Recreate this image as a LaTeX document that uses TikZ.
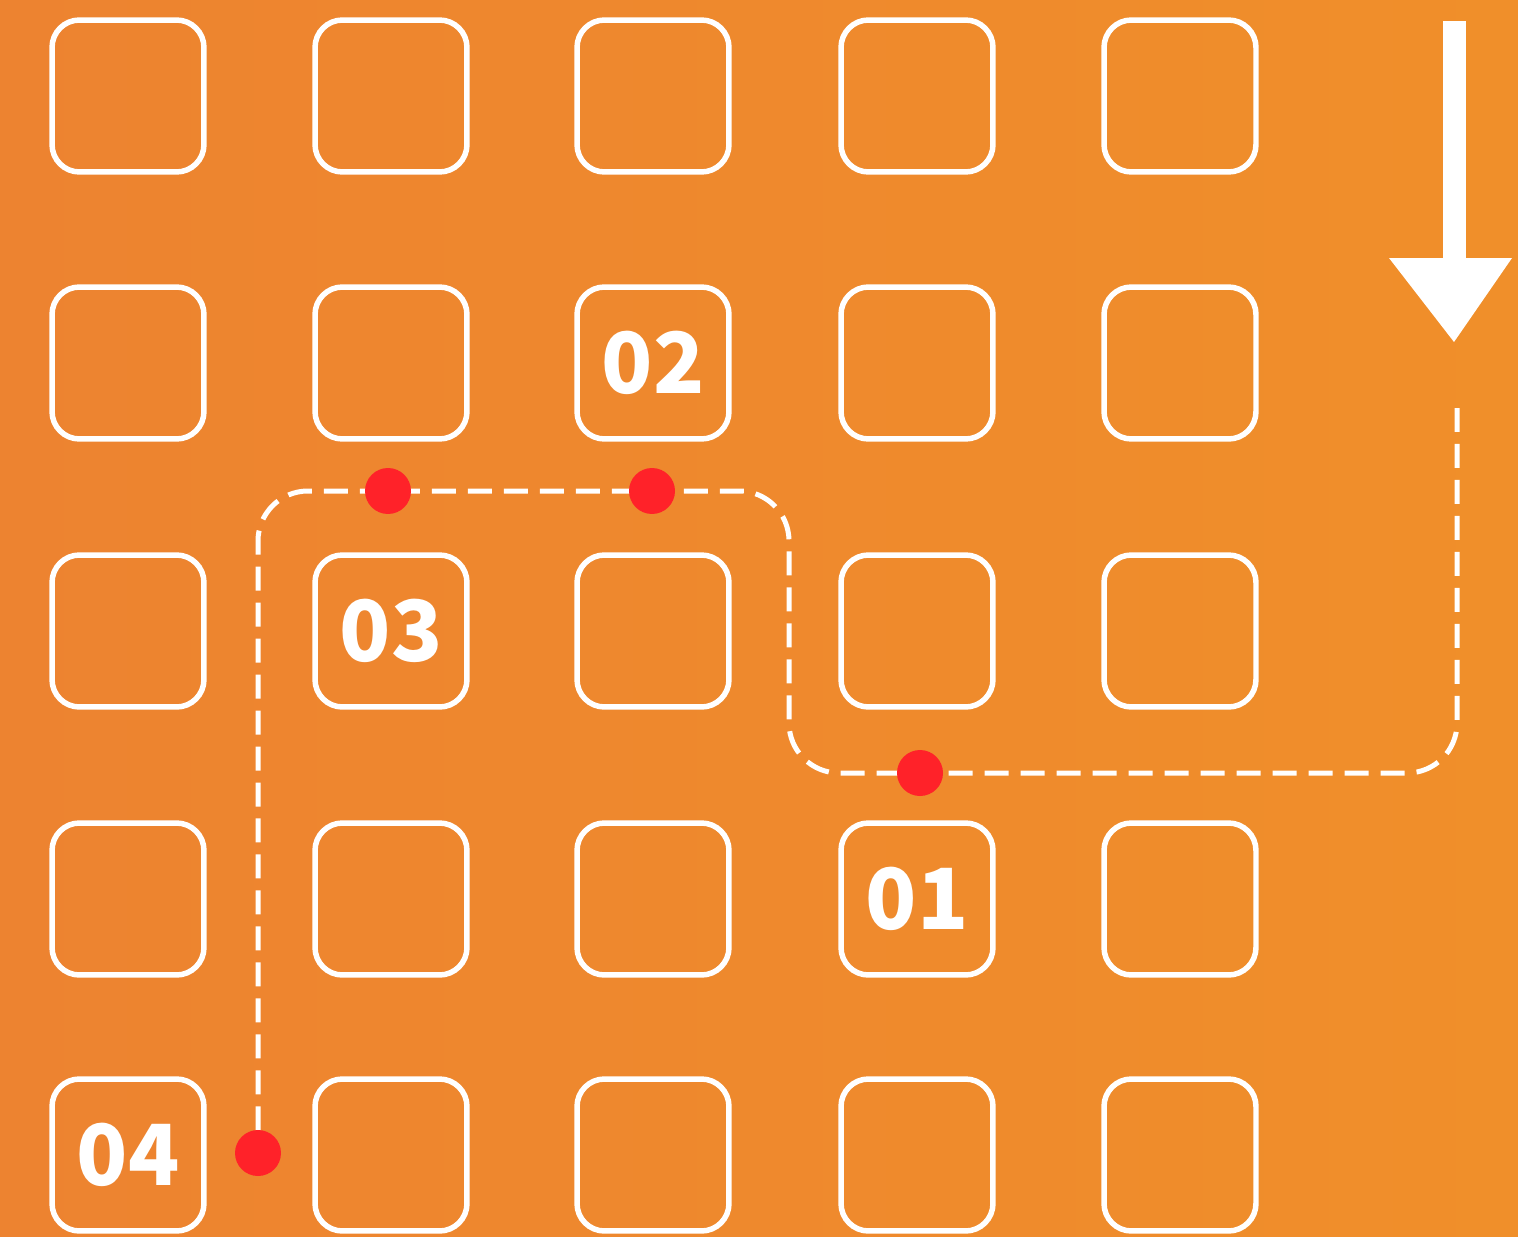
\documentclass[tikz,border=0pt]{standalone}
\usepackage{fontspec}
\newfontfamily\numfont{Noto Sans CJK SC}
\usetikzlibrary{positioning}

\definecolor{bgleft}{RGB}{237,131,48}
\definecolor{bgright}{RGB}{240,143,42}
\definecolor{dotred}{RGB}{255,34,41}

\begin{document}
\begin{tikzpicture}[x=0.02cm, y=-0.02cm,
  cell/.style={draw=white, line width=0.11cm, rounded corners=0.55cm, minimum size=3.04cm, inner sep=0pt},
  tag/.style={text=white, font=\numfont\bfseries\fontsize{48}{48}\selectfont, inner sep=0pt},
  route/.style={draw=white, line width=0.1cm, dash pattern=on 0.48cm off 0.24cm, rounded corners=1cm},
  dot/.style={circle, fill=dotred, minimum size=0.92cm, inner sep=0pt}]
\shade[left color=bgleft, right color=bgright] (0,0) rectangle (1518,1237);
\useasboundingbox (0,0) rectangle (1518,1237);
% grid
\foreach \c/\x in {1/128,2/391,3/653,4/917,5/1180}
  \foreach \r/\y in {1/96,2/363,3/631,4/899,5/1155}
    \node[cell] (c\r\c) at (\x,\y) {};
\node[tag] (t01) at (c44) {01};
\node[tag] (t02) at (c23) {02};
\node[tag] (t03) at (c32) {03};
\node[tag] (t04) at (c51) {04};
% direction arrow
\fill[white] (1443,21) rectangle (1466,259);
\fill[white] (1389,258) -- (1512,258) -- (1454,342) -- cycle;
% route with stops
\coordinate (start) at (1457,408);
\coordinate (bend) at (789,630);
\coordinate (s1) at (920,773);
\coordinate (s2) at (652,491);
\coordinate (s3) at (388,491);
\coordinate (s4) at (258,1153);
\draw[route] (start) |- (s1) -| (bend) |- (s2) -- (s3) -| (s4);
\node[dot] (p1) at (s1) {};
\node[dot] (p2) at (s2) {};
\node[dot] (p3) at (s3) {};
\node[dot] (p4) at (s4) {};
\end{tikzpicture}
\end{document}
